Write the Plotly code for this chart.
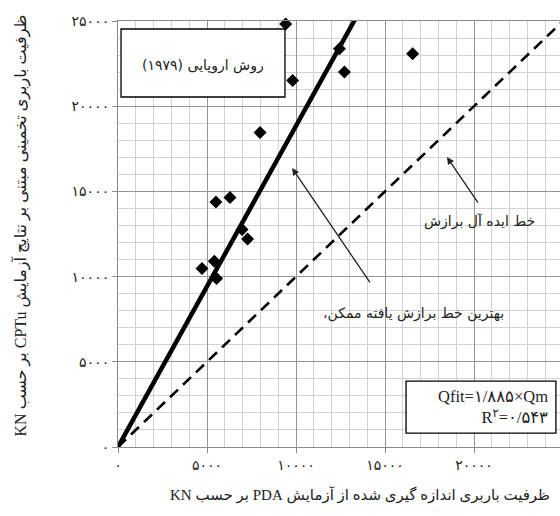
import plotly.graph_objects as go

# ---- data ----
measured_kn = [9420, 9810, 12440, 12720, 16550, 7980, 5500, 6290, 6970, 7280, 4720, 5410, 5540]
estimated_kn = [24830, 21510, 23370, 22000, 23080, 18450, 14380, 14640, 12760, 12210, 10470, 10900, 9890]

fit_slope = 1.885
fit_x = [0, 13400]
fit_y = [fit_slope * v for v in fit_x]

ideal_x = [0, 25000]
ideal_y = [0, 25000]

x_tick_vals = [0, 5000, 10000, 15000, 20000]
x_tick_text = ["۰", "۵۰۰۰", "۱۰۰۰۰", "۱۵۰۰۰", "۲۰۰۰۰"]
y_tick_vals = [0, 5000, 10000, 15000, 20000, 25000]
y_tick_text = ["۰", "۵۰۰۰", "۱۰۰۰۰", "۱۵۰۰۰", "۲۰۰۰۰", "۲۵۰۰۰"]

x_title = "ظرفیت باربری اندازه گیری شده از آزمایش PDA بر حسب KN"
y_title = "ظرفیت باربری تخمینی مبتنی بر نتایج آزمایش CPTu بر حسب KN"
method_label = "روش اروپایی (۱۹۷۹)"
ideal_label = "خط ایده آل برازش"
best_label = "بهترین خط برازش یافته ممکن،"
eq_line1 = "Qfit=۱/۸۸۵×Qm"
eq_line2 = "R<sup>۲</sup>=۰/۵۴۳"


def rtl(s):
    return "\u202b" + s + "\u202c"


FONT = "Liberation Serif, DejaVu Sans, serif"
AR_FONT = "DejaVu Sans, Liberation Serif, serif"

fig = go.Figure()

fig.add_trace(go.Scatter(
    x=ideal_x, y=ideal_y, mode="lines",
    line=dict(color="black", width=2.6, dash="11px,7px"),
    hoverinfo="skip", showlegend=False,
))
fig.add_trace(go.Scatter(
    x=fit_x, y=fit_y, mode="lines",
    line=dict(color="black", width=4.5),
    hoverinfo="skip", showlegend=False,
))
fig.add_trace(go.Scatter(
    x=measured_kn, y=estimated_kn, mode="markers",
    marker=dict(symbol="diamond", size=10, color="black"),
    showlegend=False, cliponaxis=False,
))

# method box
fig.add_shape(type="rect", xref="x", yref="y", x0=170, x1=9380, y0=20540, y1=24530,
              line=dict(color="black", width=1.3), fillcolor="white", layer="between")
fig.add_annotation(x=4780, y=22400, xref="x", yref="y", text=rtl(method_label),
                   showarrow=False, font=dict(family=AR_FONT, size=14, color="#222"))

# equation box
fig.add_shape(type="rect", xref="x", yref="y", x0=16180, x1=24600, y0=820, y1=3870,
              line=dict(color="black", width=1.3), fillcolor="white", layer="between")
fig.add_annotation(x=24250, y=2350, xref="x", yref="y", xanchor="right",
                   text=eq_line1 + "<br>" + eq_line2, align="right",
                   showarrow=False, font=dict(family=FONT, size=16.5, color="#222"))

# ideal line label + arrow
fig.add_annotation(x=20300, y=13230, xref="x", yref="y", text=rtl(ideal_label),
                   showarrow=False, font=dict(family=AR_FONT, size=14, color="#222"))
fig.add_annotation(x=18480, y=17020, xref="x", yref="y", ax=20280, ay=14260,
                   axref="x", ayref="y", text="", showarrow=True,
                   arrowhead=2, arrowsize=1.1, arrowwidth=1.3, arrowcolor="#222")

# best fit label + arrow
fig.add_annotation(x=16620, y=7860, xref="x", yref="y", text=rtl(best_label),
                   showarrow=False, font=dict(family=AR_FONT, size=14, color="#222"))
fig.add_annotation(x=9780, y=16370, xref="x", yref="y", ax=14210, ay=9570,
                   axref="x", ayref="y", text="", showarrow=True,
                   arrowhead=2, arrowsize=1.1, arrowwidth=1.3, arrowcolor="#222")

# axis titles as annotations
fig.add_annotation(x=(360 - 118) / 442, y=-(495 - 447) / 426, xref="paper", yref="paper",
                   xanchor="center", yanchor="middle",
                   text=rtl(x_title), showarrow=False,
                   font=dict(family=FONT, size=15, color="#222"))
fig.add_annotation(x=(21 - 118) / 442, y=0.52, xref="paper", yref="paper",
                   xanchor="center", yanchor="middle",
                   text=rtl(y_title), showarrow=False, textangle=-90,
                   font=dict(family=FONT, size=16, color="#222"))

axis_common = dict(
    tickmode="array",
    showgrid=True, gridcolor="#959595", gridwidth=1,
    showline=True, linecolor="#8a8a8a", linewidth=1,
    zeroline=False,
    ticks="outside", ticklen=5, tickcolor="#8a8a8a",
    tickfont=dict(family=FONT, size=14, color="#222"),
    minor=dict(tickmode="linear", tick0=0, dtick=1000, showgrid=True,
               gridcolor="#d2d2d2", gridwidth=1, ticks=""),
)

fig.update_xaxes(range=[0, 24830], tickvals=x_tick_vals, ticktext=x_tick_text,
                 mirror=True, **axis_common)
fig.update_yaxes(range=[0, 25000], tickvals=y_tick_vals, ticktext=y_tick_text,
                 **axis_common)

fig.update_layout(
    width=560, height=516,
    margin=dict(l=118, r=0, t=21, b=69),
    paper_bgcolor="white", plot_bgcolor="white",
    showlegend=False,
)

fig.write_html(
    "out.html",
    config={"displayModeBar": False},
    post_script="document.body.style.margin='0';document.body.style.overflow='hidden';"
                "document.documentElement.style.overflow='hidden';",
)
